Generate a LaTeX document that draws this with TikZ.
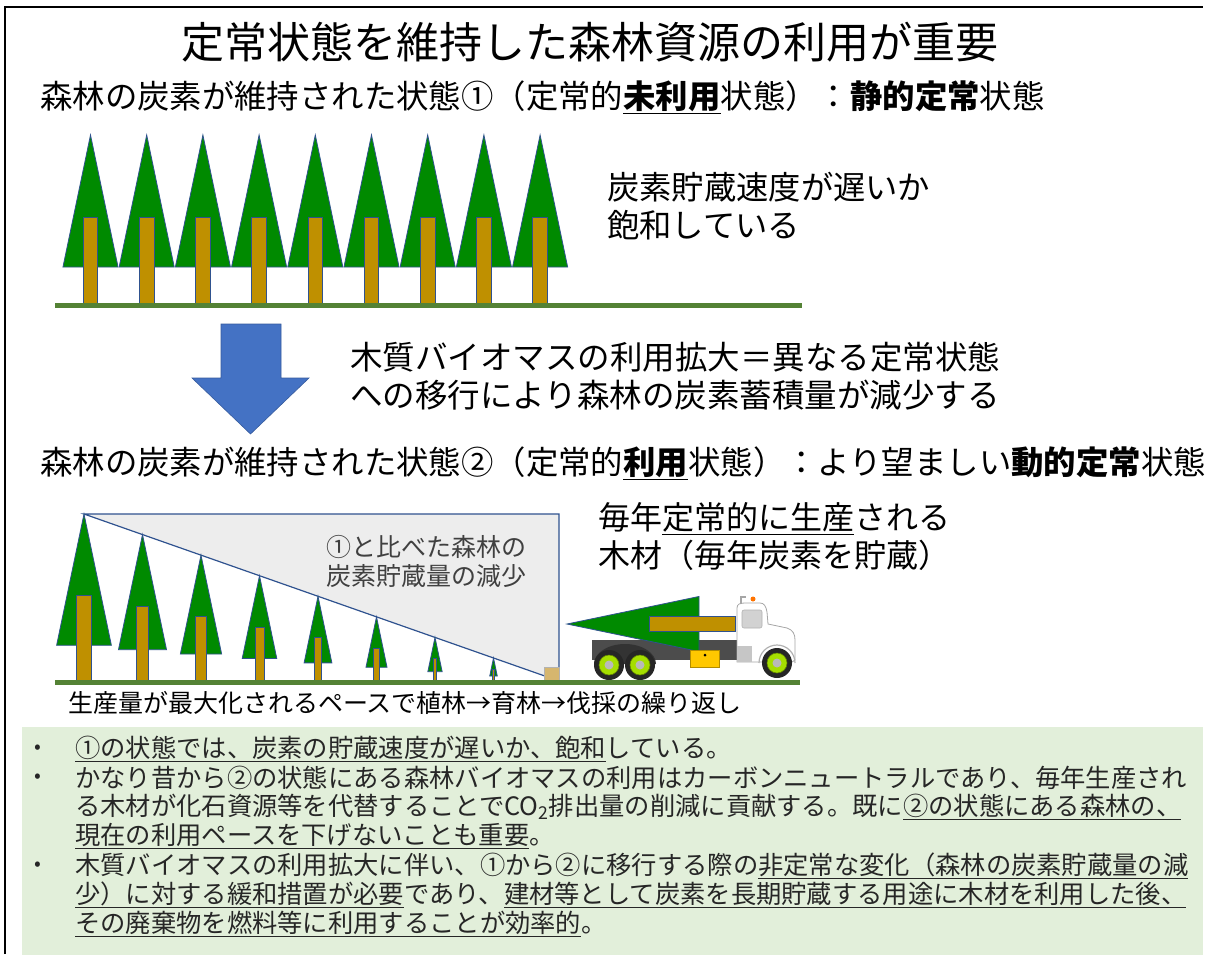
\documentclass[tikz,border=0pt]{standalone}
\usepackage{fontspec}
\setmainfont{Noto Sans CJK JP}
\usetikzlibrary{positioning}
\definecolor{leaf}{RGB}{0,138,0}
\definecolor{bark}{RGB}{191,144,0}
\definecolor{edge}{RGB}{47,82,143}
\definecolor{soil}{RGB}{84,130,53}
\definecolor{arrowblue}{RGB}{68,114,196}
\definecolor{lossgray}{RGB}{237,237,237}
\definecolor{notegreen}{RGB}{226,239,218}
\definecolor{seed}{RGB}{214,182,110}
\definecolor{tank}{RGB}{255,200,0}
\definecolor{rim}{RGB}{165,222,0}
\newcommand{\fs}[2]{\fontsize{#1}{#2}\selectfont}
% one cedar: x, ground y, height (pixel units, y downwards)
\newcommand{\sugi}[3]{%
  \filldraw[crown] (#1,{#2-#3}) -- ({#1+0.164*#3},{#2-0.214*#3}) -- ({#1-0.164*#3},{#2-0.214*#3}) -- cycle;
  \filldraw[stem] ({#1-0.043*#3},{#2-0.51*#3}) rectangle ({#1+0.043*#3},#2);
}
\tikzset{
  crown/.style={fill=leaf, draw=edge, line width=0.8pt},
  stem/.style={fill=bark, draw=edge, line width=0.8pt},
  ground/.style={soil, line width=5pt},
  txt/.style={anchor=west, inner sep=0pt, align=left, text=black},
  note/.style={txt, font=\fs{25.3}{29}, text=black!85},
  dot/.style={inner sep=0pt, font=\fs{20}{20}, text=black!85},
  wheel/.style={fill=black!85},
}

\begin{document}
\begin{tikzpicture}[x=1pt,y=-1pt]
  \useasboundingbox (0,0) rectangle (1207,954);
  \draw[line width=2.5pt] (5,954) -- (5,7) -- (1203,7);

  \node[txt, anchor=center, font=\fs{43}{50}] (title) at (590,42) {定常状態を維持した森林資源の利用が重要};
  \node[txt, font=\fs{32.4}{38}] (head1) at (40,97) {森林の炭素が維持された状態①（定常的\textbf{\underline{未利用}}状態）：\textbf{静的定常}状態};

  % saturated stand
  \foreach \i in {0,...,8}{
    \pgfmathsetmacro{\tx}{90.5+56.2*\i}
    \sugi{\tx}{303}{168}
  }
  \draw[ground] (55,305) -- (802,305);
  \node[txt, font=\fs{32.3}{38}] (slow) at (607,206) {炭素貯蔵速度が遅いか\\飽和している};

  % transition arrow
  \filldraw[fill=arrowblue, draw=arrowblue!80!black, line width=0.6pt]
    (221,324) -- (281,324) -- (281,378) -- (309,378) -- (250.5,434) -- (192,378) -- (221,378) -- cycle;
  \node[txt, font=\fs{32.5}{38}] (shift) at (350,376) {木質バイオマスの利用拡大＝異なる定常状態\\への移行により森林の炭素蓄積量が減少する};

  \node[txt, font=\fs{32.4}{38}] (head2) at (40,463) {森林の炭素が維持された状態②（定常的\textbf{\underline{利用}}状態）：より望ましい\textbf{動的定常}状態};

  % stock loss wedge
  \filldraw[fill=lossgray, draw=edge, line width=1.2pt] (84,514) -- (559,514) -- (559,681) -- cycle;
  \filldraw[fill=seed, draw=gray!60, line width=0.6pt] (544,667) rectangle (559,680);
  \node[txt, font=\fs{25}{29}, text=black!75] (loss) at (326,561.5) {①と比べた森林の\\炭素貯蔵量の減少};

  % rotation stand, ages spread along the wedge
  \foreach \i in {0,...,7}{
    \pgfmathsetmacro{\tx}{84+58.5*\i}
    \pgfmathsetmacro{\th}{167*(1-(\tx-84)/475)}
    \sugi{\tx}{681}{\th}
  }

  % log truck
  \fill[black!70] (592,640) rectangle (737,660);
  \fill[black!80] (594,664) arc[start angle=180, end angle=0, x radius=31pt, y radius=20pt] -- cycle;
  \foreach \wx/\wy in {609/665,640/665,777/663}{
    \fill[wheel] (\wx,\wy) circle[radius=15pt];
    \filldraw[fill=rim, draw=rim!60!black, line width=0.6pt] (\wx,\wy) circle[radius=10pt];
    \fill[gray!55] (\wx,\wy) circle[radius=4.5pt];
  }
  \begin{scope}[shift={(735,624)}, rotate=90]
    \sugi{0}{0}{168}
  \end{scope}
  \filldraw[fill=tank, draw=tank!70!black, line width=0.6pt] (690,650) rectangle (719,667);
  \fill[black] (705,655) circle[radius=1.5pt];
  \filldraw[fill=white, draw=gray!70, line width=0.8pt]
    (737,662) -- (737,608) .. controls (737,604) and (740,603) .. (745,603) -- (760,603)
    .. controls (764,603) and (766,606) .. (767,612) -- (768,624) -- (787,628)
    .. controls (793,630) and (795,634) .. (795,640) -- (795,660) -- (792,662) -- cycle;
  \filldraw[fill=gray!35, draw=gray!60, line width=0.6pt, rounded corners=2pt] (742,610) rectangle (762,628);
  \fill[gray!45] (737,646) rectangle (752,662);
  \draw[gray!70, line width=1.5pt] (741,604) -- (741,597) -- (746,597);
  \fill[orange!90!red] (753,599) circle[radius=2.5pt];
  \fill[white] (777,663) ++(-19,0) arc[start angle=180, end angle=360, radius=19pt] -- cycle;
  \draw[gray!60, line width=1.2pt] (759,663) arc[start angle=180, end angle=0, radius=18pt];
  \foreach \wx/\wy in {777/663}{
    \fill[wheel] (\wx,\wy) circle[radius=15pt];
    \filldraw[fill=rim, draw=rim!60!black, line width=0.6pt] (\wx,\wy) circle[radius=10pt];
    \fill[gray!55] (\wx,\wy) circle[radius=4.5pt];
  }
  \draw[ground] (55,682) -- (800,682);

  \node[txt, font=\fs{32}{38}] (annual) at (598,537) {毎年\underline{定常的に生産}される\\木材（毎年炭素を貯蔵）};
  \node[txt, font=\fs{25}{29}] (cycle) at (68,703) {生産量が最大化されるペースで植林→育林→伐採の繰り返し};

  % notes
  \fill[notegreen] (22,727) rectangle (1203,956);
  \node[dot] (d1) at (38,749) {•};
  \node[dot] (d2) at (38,778) {•};
  \node[dot] (d3) at (38,866) {•};
  \node[note] (b1) at (75,749) {\underline{①の状態では、炭素の貯蔵速度が遅いか、飽和}している。};
  \node[note] (b2) at (75,778) {かなり昔から②の状態にある森林バイオマスの利用はカーボンニュートラルであり、毎年生産され};
  \node[note] (b3) at (75,807) {る木材が化石資源等を代替することでCO\textsubscript{2}排出量の削減に貢献する。既に\underline{②の状態にある森林の、}};
  \node[note] (b4) at (75,836) {\underline{現在の利用ペースを下げないことも重要}。};
  \node[note] (b5) at (75,866) {木質バイオマスの利用拡大に伴い、①から②に移行する際の\underline{非定常な変化（森林の炭素貯蔵量の減}};
  \node[note] (b6) at (75,895) {\underline{少）に対する緩和措置が必要}であり、\underline{建材等として炭素を長期貯蔵する用途に木材を利用した後、}};
  \node[note] (b7) at (75,924) {\underline{その廃棄物を燃料等に利用することが効率的}。};
\end{tikzpicture}
\end{document}
